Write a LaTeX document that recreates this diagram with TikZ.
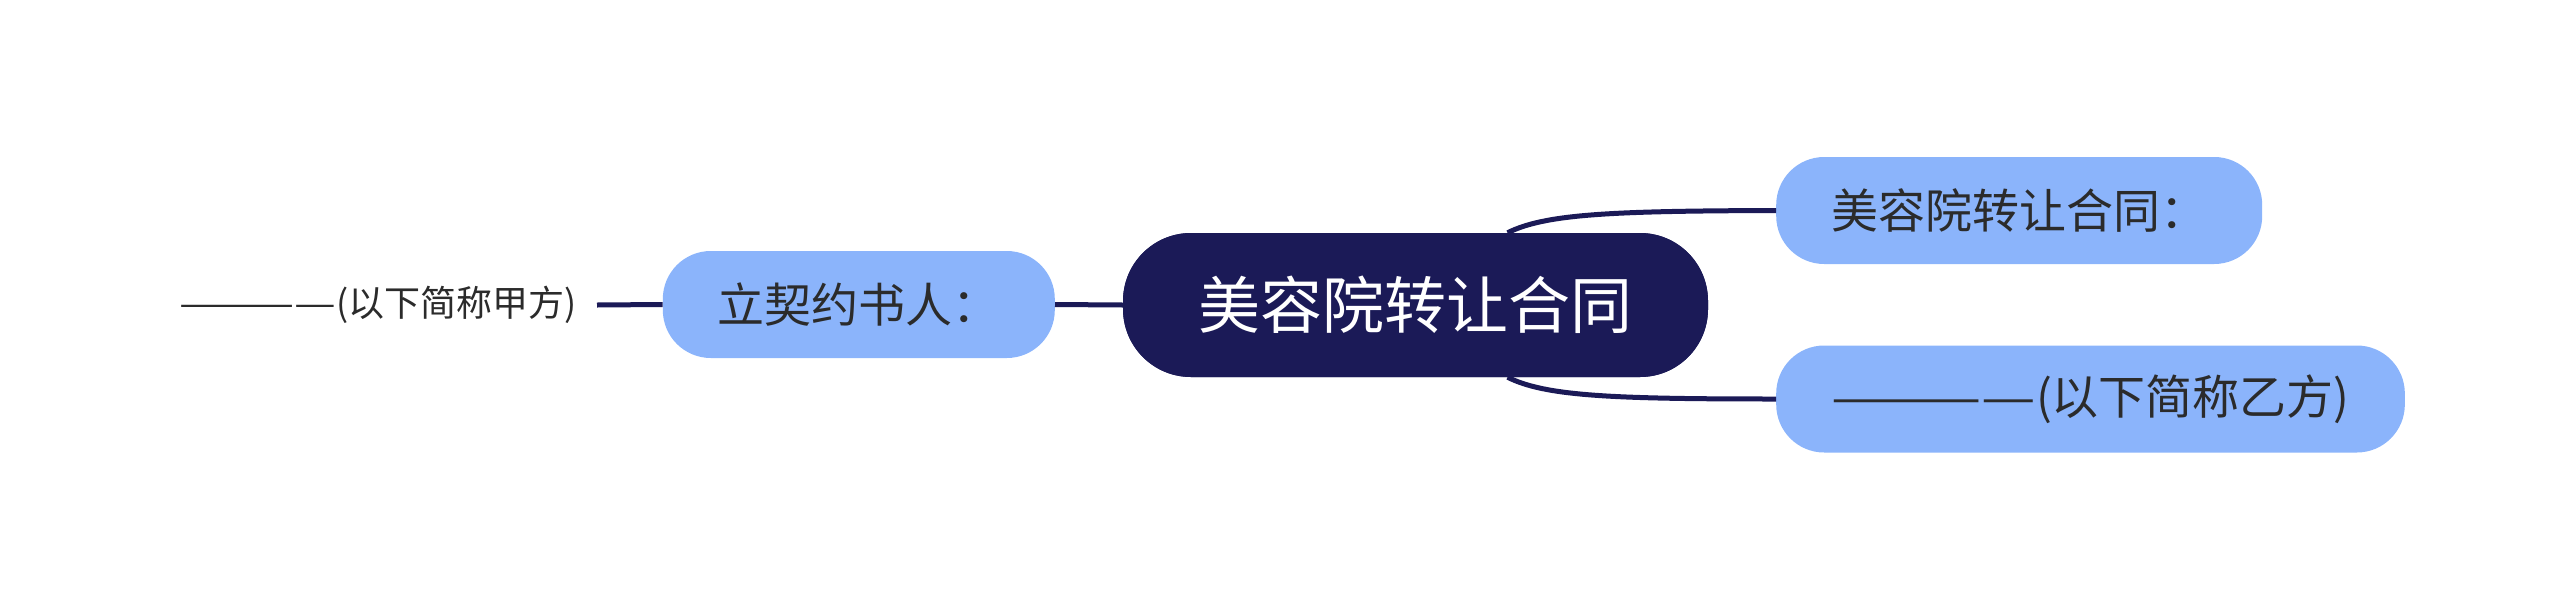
\documentclass[tikz,border=0pt]{standalone}
\usepackage{fontspec}
\setmainfont{Noto Sans CJK SC}
\definecolor{navy}{HTML}{1B1A57}
\definecolor{lblue}{HTML}{8BB4FB}
\definecolor{ink}{HTML}{2B2B2B}
\newcommand{\longdash}{\scalebox{1.3}[1]{————}}
\begin{document}
\begin{tikzpicture}[x=1pt,y=-1pt,
  central/.style={fill=navy,text=white,rounded corners=68pt,minimum height=144pt,minimum width=585pt,inner sep=0pt,font=\fontsize{62}{70}\selectfont},
  sub/.style={fill=lblue,text=ink,rounded corners=48pt,minimum height=107pt,inner xsep=55pt,inner ysep=0pt,font=\fontsize{47}{54}\selectfont},
  leaf/.style={text=ink,inner xsep=20pt,inner ysep=0pt,font=\fontsize{36}{40}\selectfont},
  conn/.style={draw=navy,line width=5pt}]
\useasboundingbox (0,0) rectangle (2560,611);
\node[central] (c) at (1415.5,305) {美容院转让合同};
\node[sub,anchor=west] (rt) at (1776,210.5) {美容院转让合同：};
\node[sub,anchor=west] (rb) at (1776,399) {\longdash(以下简称乙方)};
\node[sub,anchor=east] (l) at (1055,304.5) {立契约书人：};
\node[leaf,anchor=east] (t) at (597,305) {\longdash(以下简称甲方)};
\draw[conn] (c.west) -- (l.east);
\draw[conn] (t.east) -- (l.west);
\draw[conn] ([xshift=92pt]c.north) .. controls (1545,214) and (1610,211) .. (rt.west);
\draw[conn] ([xshift=92pt]c.south) .. controls (1545,396) and (1610,399) .. (rb.west);
\node[central] at (c) {美容院转让合同};
\end{tikzpicture}
\end{document}
